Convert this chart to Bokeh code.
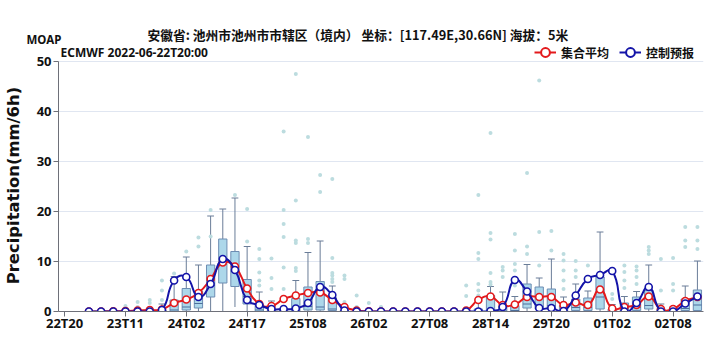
import numpy as np
from bokeh.plotting import figure
from bokeh.models import Range1d, FixedTicker, Label, Legend, LegendItem, ColumnDataSource, Title
from bokeh.embed import file_html
from bokeh.resources import INLINE

# ---------------- data ----------------
categories = ["22T20", "22T23", "23T02", "23T05", "23T08", "23T11", "23T14", "23T17", "23T20", "23T23",
              "24T02", "24T05", "24T08", "24T11", "24T14", "24T17", "24T20", "24T23", "25T02", "25T05",
              "25T08", "25T11", "25T14", "25T17", "25T20", "26T02", "26T08", "26T14", "26T20", "27T02",
              "27T08", "27T14", "27T20", "28T02", "28T08", "28T14", "28T20", "29T02", "29T08", "29T14",
              "29T20", "30T02", "30T08", "30T14", "30T20", "01T02", "01T08", "01T14", "01T20", "02T02",
              "02T08", "02T14", "02T20"]
tick_labels = ["22T20", "23T11", "24T02", "24T17", "25T08", "26T02", "27T08", "28T14", "29T20", "01T02", "02T08"]
valid_times = categories[2:]

control = [0, 0, 0, 0, 0, 0, 0.3, 6.2, 6.9, 2.9, 5.5, 10.5, 8.3, 2.3, 1.3, 0.5, 0.5, 0.6, 1.7, 4.9,
           3.3, 0.2, 0, 0, 0, 0, 0, 0, 0, 0, 0, 0, 0, 0.1, 0.9, 6.3, 4.0, 0.7, 0.7, 0.1,
           3.2, 6.5, 7.3, 8.1, 0, 1.7, 4.9, 0, 0, 1.6, 3.0]
ens_mean = [0, 0, 0.05, 0.1, 0.2, 0.3, 0.4, 1.7, 2.4, 3.7, 6.5, 9.8, 9.0, 4.6, 1.5, 1.1, 2.5, 3.2, 3.7, 3.8,
            2.3, 0.9, 0.2, 0.05, 0, 0, 0, 0, 0, 0, 0, 0.2, 2.3, 3.0, 1.3, 1.4, 2.9, 2.9, 2.9, 1.3,
            1.8, 1.3, 4.4, 0.6, 0.9, 1.3, 3.0, 0.5, 0.5, 2.1, 2.9]

whisker_low = [0, 0, 0, 0, 0, 0, 0, 0, 0, 0, 0, 0, 0.9, 0, 0, 0, 0, 0, 0, 0,
               0, 0, 0, 0, 0, 0, 0, 0, 0, 0, 0, 0, 0, 0, 0, 0, 0, 0, 0, 0,
               0, 0, 0, 0, 0, 0, 0, 0, 0, 0, 0]
box_q1 = [0, 0, 0, 0, 0, 0, 0, 0, 0.3, 0.7, 2.9, 5.7, 5.0, 1.5, 0, 0, 0, 0, 0.3, 0.3,
          0.2, 0, 0, 0, 0, 0, 0, 0, 0, 0, 0, 0, 0, 0, 0, 0, 0.7, 0.5, 0.5, 0,
          0.2, 0.2, 0.5, 0, 0, 0.2, 0.5, 0, 0, 0.2, 0.2]
box_median = [0, 0, 0, 0, 0, 0, 0, 0.3, 0.9, 1.6, 5.2, 9.5, 8.0, 3.0, 0.3, 0, 0, 0.3, 1.0, 0.9,
              0.5, 0, 0, 0, 0, 0, 0, 0, 0, 0, 0, 0, 0, 0.2, 0.1, 0.2, 1.5, 1.0, 1.2, 0.2,
              0.8, 0.8, 2.9, 0, 0.3, 0.8, 1.2, 0, 0, 0.6, 1.3]
box_q3 = [0, 0, 0, 0, 0, 0, 0.3, 2.3, 4.6, 4.1, 9.3, 14.5, 12.0, 6.4, 1.5, 0.4, 0.3, 2.6, 4.9, 6.0,
          2.8, 0.3, 0, 0, 0, 0, 0, 0, 0, 0, 0, 0, 0.5, 3.2, 1.0, 1.2, 5.5, 4.9, 4.5, 1.2,
          2.5, 2.7, 6.9, 0.5, 1.7, 2.9, 4.2, 0.4, 0.3, 2.5, 4.3]
whisker_high = [0, 0, 0, 0, 0.4, 0.6, 1.5, 7.0, 10.9, 9.3, 19.1, 20.5, 22.7, 13.0, 3.9, 2.1, 0.8, 6.2, 11.8, 14.1,
                5.1, 0.8, 0.3, 0, 0, 0, 0, 0, 0, 0, 0.5, 0, 2.0, 5.0, 3.9, 3.0, 9.4, 6.7, 10.5, 2.9,
                5.5, 4.1, 15.9, 1.4, 3.0, 4.0, 9.3, 1.5, 1.0, 5.1, 10.1]

outliers = [[], [], [], [1.1], [0.9, 1.9], [1.7, 2.3], [2.3, 4.2, 6.2], [7.6], [12.0], [13.0, 14.8],
            [15.0, 20.3], [], [23.3], [14.0, 20.5], [5.2, 6.2, 7.8, 10.5, 12.5], [4.5, 6.7, 10.6],
            [4.5, 8.8, 14.9, 17.5, 20.3, 36.0], [8.1, 8.7, 13.7, 14.2, 22.2, 47.5], [13.7, 14.5, 34.9],
            [23.9, 27.3], [5.9, 6.5, 7.2, 7.7, 10.7, 26.5], [1.9, 6.5, 7.2], [0.9, 3.2], [1.7], [0.9],
            [], [], [], [], [], [], [3.1, 5.2], [3.2, 4.2, 5.5, 10.5, 11.7, 23.3],
            [5.4, 5.9, 7.7, 14.4, 15.7, 35.7], [6.9, 8.2, 8.9], [5.2, 8.2, 9.5, 12.2, 15.5],
            [11.5, 13.0, 27.7], [9.2, 15.9, 46.2], [12.2, 16.1], [4.5, 6.2, 8.2, 10.2, 11.5],
            [6.9, 8.2, 10.1], [9.2], [], [2.5, 3.5], [4.7, 6.2, 7.9, 9.2], [5.5, 6.9, 8.2, 9.0],
            [11.5, 12.2, 12.9], [4.2, 10.5], [4.2, 5.5, 10.7], [12.9, 14.2, 16.9], [12.5, 14.2, 16.9]]

title_text = "安徽省: 池州市池州市市辖区（境内） 坐标：[117.49E,30.66N] 海拔：5米"
subtitle_text = "ECMWF 2022-06-22T20:00"
brand_text = "MOAP"
y_label = "Precipitation(mm/6h)"
series_names = ["集合平均", "控制预报"]

# ---------------- styling ----------------
RED = "#e3191c"
BLUE = "#1414a8"
BOX_FILL = "#acd7ea"
BOX_LINE = "#6d8db3"
WHISK = "#6a7d98"
OUT_COL = "#bcdcdf"
AX_COL = "#6e7079"
TXT = "#111111"
FONT = "Noto Sans"
CJK = "Noto Sans CJK SC"

xi = np.array([categories.index(t) for t in valid_times], dtype=float)

p = figure(width=709, height=353, output_backend="svg", toolbar_location=None,
           x_range=Range1d(-0.5, len(categories) - 0.5), y_range=Range1d(0, 53.8),
           min_border_left=56, min_border_right=6, min_border_top=42, min_border_bottom=42)
p.outline_line_color = None
p.background_fill_color = "white"
p.border_fill_color = "white"
p.xgrid.grid_line_color = None
p.ygrid.grid_line_color = "#e0e6f1"
p.ygrid.ticker = FixedTicker(ticks=[10, 20, 30, 40, 50])

p.xaxis.ticker = FixedTicker(ticks=[categories.index(t) for t in tick_labels])
p.xaxis.major_label_overrides = {categories.index(t): t for t in tick_labels}
p.yaxis.ticker = FixedTicker(ticks=[0, 10, 20, 30, 40, 50])
p.yaxis.bounds = (0, 50)
for ax in (p.xaxis, p.yaxis):
    ax.axis_line_color = AX_COL
    ax.major_tick_line_color = AX_COL
    ax.major_tick_out = 5
    ax.major_tick_in = 0
    ax.minor_tick_line_color = None
    ax.major_label_text_font = FONT
    ax.major_label_text_font_style = "bold"
    ax.major_label_text_font_size = "13px"
    ax.major_label_text_color = TXT
p.yaxis.major_label_standoff = 2
p.xaxis.major_label_standoff = -3
# trailing no-break spaces keep the label centred on the 0-50 span of the axis
p.yaxis.axis_label = y_label + "\u00a0\u00a0\u00a0"
p.yaxis.axis_label_text_font = "DejaVu Sans"
p.yaxis.axis_label_text_font_style = "bold"
p.yaxis.axis_label_text_font_size = "16.4px"
p.yaxis.axis_label_text_color = TXT
p.yaxis.axis_label_standoff = 11

# ---------------- boxes ----------------
q1 = np.array(box_q1); q3 = np.array(box_q3); med = np.array(box_median)
wl = np.array(whisker_low); wh = np.array(whisker_high)
has_box = q3 > 0
has_wh = wh > 0
bw = 0.34
cw = 0.28
p.segment(x0=xi[has_wh], y0=wl[has_wh], x1=xi[has_wh], y1=wh[has_wh], line_color=WHISK, line_width=1)
p.segment(x0=xi[has_wh] - cw, y0=wh[has_wh], x1=xi[has_wh] + cw, y1=wh[has_wh], line_color=WHISK, line_width=1)
p.quad(left=xi[has_box] - bw, right=xi[has_box] + bw, bottom=q1[has_box], top=q3[has_box],
       fill_color=BOX_FILL, line_color=BOX_LINE, line_width=1)
p.segment(x0=xi[has_box] - bw, y0=med[has_box], x1=xi[has_box] + bw, y1=med[has_box],
          line_color="#4d6f9c", line_width=1.2)

ox = [x for x, lst in zip(xi, outliers) for _ in lst]
oy = [v for lst in outliers for v in lst]
p.scatter(ox, oy, marker="circle", size=4, fill_color=OUT_COL, line_color=None)

# ---------------- smooth lines (cubic bezier through the data points) ----------------
PX_X = 647 / len(categories)
PX_Y = 5.0


def smooth_segments(xs, ys, smooth=0.5):
    X = np.asarray(xs) * PX_X
    Y = np.asarray(ys, dtype=float) * PX_Y
    n = len(X)
    cin = np.zeros((n, 2)); cout = np.zeros((n, 2))
    for i in range(n):
        a = i - 1 if i > 0 else i
        b = i + 1 if i < n - 1 else i
        vx, vy = X[b] - X[a], Y[b] - Y[a]
        d0 = np.hypot(X[i] - X[a], Y[i] - Y[a])
        d1 = np.hypot(X[b] - X[i], Y[b] - Y[i])
        tot = d0 + d1
        r0 = d0 / tot if tot else 0
        r1 = d1 / tot if tot else 0
        cin[i] = (X[i] - vx * smooth * r0, Y[i] - vy * smooth * r0)
        cout[i] = (X[i] + vx * smooth * r1, Y[i] + vy * smooth * r1)
    return dict(x0=X[:-1] / PX_X, y0=Y[:-1] / PX_Y, x1=X[1:] / PX_X, y1=Y[1:] / PX_Y,
                cx0=cout[:-1, 0] / PX_X, cy0=cout[:-1, 1] / PX_Y,
                cx1=cin[1:, 0] / PX_X, cy1=cin[1:, 1] / PX_Y)


nan2 = [float("nan"), float("nan")]
items = []
for vals, col, name in ((ens_mean, RED, series_names[0]), (control, BLUE, series_names[1])):
    seg = ColumnDataSource(smooth_segments(xi, vals))
    p.bezier(x0="x0", y0="y0", x1="x1", y1="y1", cx0="cx0", cy0="cy0", cx1="cx1", cy1="cy1",
             source=seg, line_color=col, line_width=2)
    p.scatter(xi, vals, marker="circle", size=7, fill_color="white", line_color=col, line_width=1.6)
    # legend-only renderers (no visible data)
    lg = p.line(nan2, nan2, line_color=col, line_width=2)
    lgm = p.scatter(nan2, nan2, marker="circle", size=9, fill_color="white", line_color=col, line_width=2)
    items.append(LegendItem(label=name, renderers=[lg, lgm]))

legend = Legend(items=items, orientation="horizontal", location=(476, 248),
                glyph_width=22, glyph_height=22, label_height=22, label_standoff=5, spacing=10,
                padding=0, margin=0, border_line_color=None, background_fill_alpha=0,
                label_text_font=CJK, label_text_font_style="bold", label_text_font_size="12px",
                label_text_color=TXT)
p.add_layout(legend)

# ---------------- texts ----------------
p.add_layout(Label(x=2, y=259, x_units="screen", y_units="screen", text=subtitle_text,
                   text_align="left", text_baseline="middle", text_font=FONT,
                   text_font_style="bold", text_font_size="12px", text_color=TXT))

p.add_layout(Title(text=brand_text, align="left", offset=-32, standoff=-8, vertical_align="bottom",
                   text_font=FONT, text_font_style="bold", text_font_size="11.5px", text_color=TXT), "above")
p.add_layout(Title(text=title_text, align="left", offset=89, standoff=-20, vertical_align="bottom",
                   text_font=CJK, text_font_style="bold", text_font_size="12.75px", text_color=TXT), "above")

open("out.html", "w").write(file_html(p, INLINE))
